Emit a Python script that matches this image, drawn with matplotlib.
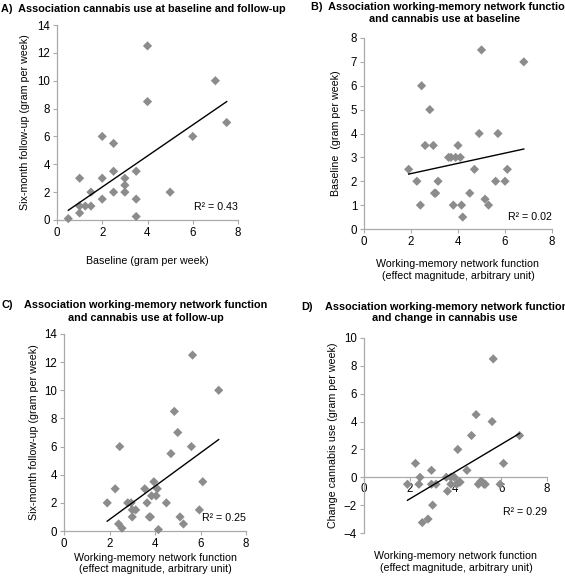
import matplotlib
matplotlib.use("Agg")
import matplotlib.pyplot as plt
import numpy as np

plt.rcParams['font.family'] = ['Liberation Sans', 'DejaVu Sans']

# Panel A: baseline vs follow-up
a_x = [0.5, 1, 1, 1, 1.25, 1.5, 1.5, 2, 2, 2, 2.5, 2.5, 2.5, 3, 3, 3, 3.5, 3.5, 3.5, 4, 4, 5, 6, 7, 7.5]
a_y = [0.1, 3, 1, 0.5, 1, 2, 1, 6, 3, 1.5, 5.5, 3.5, 2, 3, 2.5, 2, 3.5, 1.5, 0.25, 12.5, 8.5, 2, 6, 10, 7]
a_line_x = [0.5, 7.5]
a_line_y = [0.7, 8.5]

# Panel B: WM function vs baseline
b_x = [1.9, 2.25, 2.4, 2.45, 2.6, 2.8, 2.95, 3.0, 3.05, 3.15, 3.6, 3.7, 3.8, 3.9, 4.0, 4.1,
       4.15, 4.2, 4.5, 4.7, 4.9, 5.0, 5.15, 5.3, 5.6, 5.7, 6.0, 6.1, 6.8]
b_y = [2.5, 2, 1, 6, 3.5, 5, 3.5, 1.5, 1.5, 2, 3, 3, 1, 3, 3.5, 3,
       1, 0.5, 1.5, 2.5, 4, 7.5, 1.25, 1, 2, 4, 2, 2.5, 7]
b_line_x = [1.9, 6.8]
b_line_y = [2.3, 3.35]

# Panel C: WM function vs follow-up
c_x = [1.9, 2.25, 2.4, 2.45, 2.55, 2.8, 2.95, 3.0, 3.0, 3.15, 3.55, 3.65, 3.75, 3.8, 3.85,
       3.95, 4.05, 4.1, 4.15, 4.5, 4.7, 4.85, 5.0, 5.1, 5.25, 5.6, 5.65, 5.95, 6.1, 6.8]
c_y = [2, 3, 0.5, 6, 0.2, 2, 2, 1.5, 1, 1.5, 3, 2, 1, 1, 2.5,
       3.5, 2.5, 3, 0.1, 2, 5.5, 8.5, 7, 1, 0.5, 6, 12.5, 1.5, 3.5, 10]
c_line_x = [1.9, 6.8]
c_line_y = [0.7, 6.5]

# Panel D: WM function vs change
d_x = [1.9, 2.25, 2.4, 2.45, 2.55, 2.8, 2.95, 2.95, 3.0, 3.15, 3.6, 3.65, 3.8, 3.8, 3.95, 4.05,
       4.1, 4.15, 4.2, 4.5, 4.7, 4.9, 5.0, 5.1, 5.15, 5.25, 5.3, 5.6, 5.65, 5.95, 6.1, 6.8]
d_y = [-0.5, 1, -0.5, 0, -3.25, -3, 0.5, -0.5, -2, -0.5, 0, -1, 0, -0.5, 0, -0.5,
       2, -0.35, -0.35, 0.5, 3, 4.5, -0.5, -0.3, -0.3, -0.5, -0.5, 4, 8.5, -0.5, 1, 3]
d_line_x = [1.9, 6.8]
d_line_y = [-1.65, 3.15]

W, H = 565, 577
fig = plt.figure(figsize=(W / 100, H / 100), dpi=100)

MC = '#8c8c8c'
SC = '#aaaaaa'
FS = 7.7      # axis labels
TFS = 7.8     # titles
KFS = 8.3     # tick labels


def make_ax(l, r, top, bottom):
    return fig.add_axes([l / W, 1 - bottom / H, (r - l) / W, (bottom - top) / H])


def style(ax, xlim, ylim, yticks):
    ax.set_xlim(*xlim)
    ax.set_ylim(*ylim)
    ax.set_xticks([0, 2, 4, 6, 8])
    ax.set_yticks(yticks)
    for s in ['top', 'right']:
        ax.spines[s].set_visible(False)
    for s in ['left', 'bottom']:
        ax.spines[s].set_color(SC)
        ax.spines[s].set_linewidth(0.9)
    ax.tick_params(colors=SC, labelcolor='black', labelsize=KFS, length=3, width=0.8, pad=2)


def scatter(ax, x, y, lx, ly, r2, r2pos):
    ax.scatter(x, y, marker='D', s=22, color=MC, edgecolors='none', zorder=3, clip_on=False)
    ax.plot(lx, ly, color='black', lw=1.0, zorder=4)
    ax.text(r2pos[0], r2pos[1], r2, transform=ax.transAxes, ha='right', va='center', fontsize=FS)


# Panel A
axA = make_ax(57, 238, 25, 220)
style(axA, (0, 8), (0, 14), range(0, 15, 2))
scatter(axA, a_x, a_y, a_line_x, a_line_y, 'R² = 0.43', (1.0, 0.065))
axA.set_xlabel('Baseline (gram per week)', fontsize=FS, labelpad=12)
axA.set_ylabel('Six-month follow-up (gram per week)', fontsize=FS, labelpad=5)
fig.text(1 / W, 1 - 9 / H, 'A)  Association cannabis use at baseline and follow-up',
         fontsize=TFS, fontweight='bold', ha='left', va='center')

# Panel B
axB = make_ax(364, 552, 38, 229)
style(axB, (0, 8), (0, 8), range(0, 9, 1))
scatter(axB, b_x, b_y, b_line_x, b_line_y, 'R² = 0.02', (1.0, 0.065))
axB.set_xlabel('Working-memory network function\n(effect magnitude, arbitrary unit)',
               fontsize=FS, labelpad=8, linespacing=1.3)
axB.set_ylabel('Baseline  (gram per week)', fontsize=FS, labelpad=7)
fig.text(311 / W, 1 - 7 / H, 'B)  Association working-memory network function',
         fontsize=TFS, fontweight='bold', ha='left', va='center')
fig.text(445 / W, 1 - 19 / H, 'and cannabis use at baseline',
         fontsize=TFS, fontweight='bold', ha='center', va='center')

# Panel C
axC = make_ax(64, 246, 334, 531)
style(axC, (0, 8), (0, 14), range(0, 15, 2))
scatter(axC, c_x, c_y, c_line_x, c_line_y, 'R² = 0.25', (1.0, 0.065))
axC.set_xlabel('Working-memory network function\n(effect magnitude, arbitrary unit)',
               fontsize=FS, labelpad=2, linespacing=1.1)
axC.set_ylabel('Six-month follow-up (gram per week)', fontsize=FS, labelpad=4)
fig.text(1 / W, 1 - 305 / H, 'C)', fontsize=TFS, fontweight='bold', ha='left', va='center')
fig.text(146 / W, 1 - 305 / H, 'Association working-memory network function',
         fontsize=TFS, fontweight='bold', ha='center', va='center')
fig.text(146 / W, 1 - 318 / H, 'and cannabis use at follow-up',
         fontsize=TFS, fontweight='bold', ha='center', va='center')

# Panel D
axD = make_ax(364, 547, 338, 533)
style(axD, (0, 8), (-4, 10), range(-4, 11, 2))
axD.spines['bottom'].set_position(('data', 0))
axD.tick_params(axis='x', pad=1)
scatter(axD, d_x, d_y, d_line_x, d_line_y, 'R² = 0.29', (1.0, 0.11))
axD.set_ylabel('Change cannabis use (gram per week)', fontsize=FS, labelpad=4)
fig.text(456 / W, 1 - 562 / H, 'Working-memory network function\n(effect magnitude, arbitrary unit)',
         fontsize=FS, ha='center', va='center', linespacing=1.3)
fig.text(301 / W, 1 - 307 / H, 'D)', fontsize=TFS, fontweight='bold', ha='left', va='center')
fig.text(325 / W, 1 - 307 / H, 'Association working-memory network function',
         fontsize=TFS, fontweight='bold', ha='left', va='center')
fig.text(445 / W, 1 - 318 / H, 'and change in cannabis use',
         fontsize=TFS, fontweight='bold', ha='center', va='center')

fig.savefig('out.png', dpi=100)
